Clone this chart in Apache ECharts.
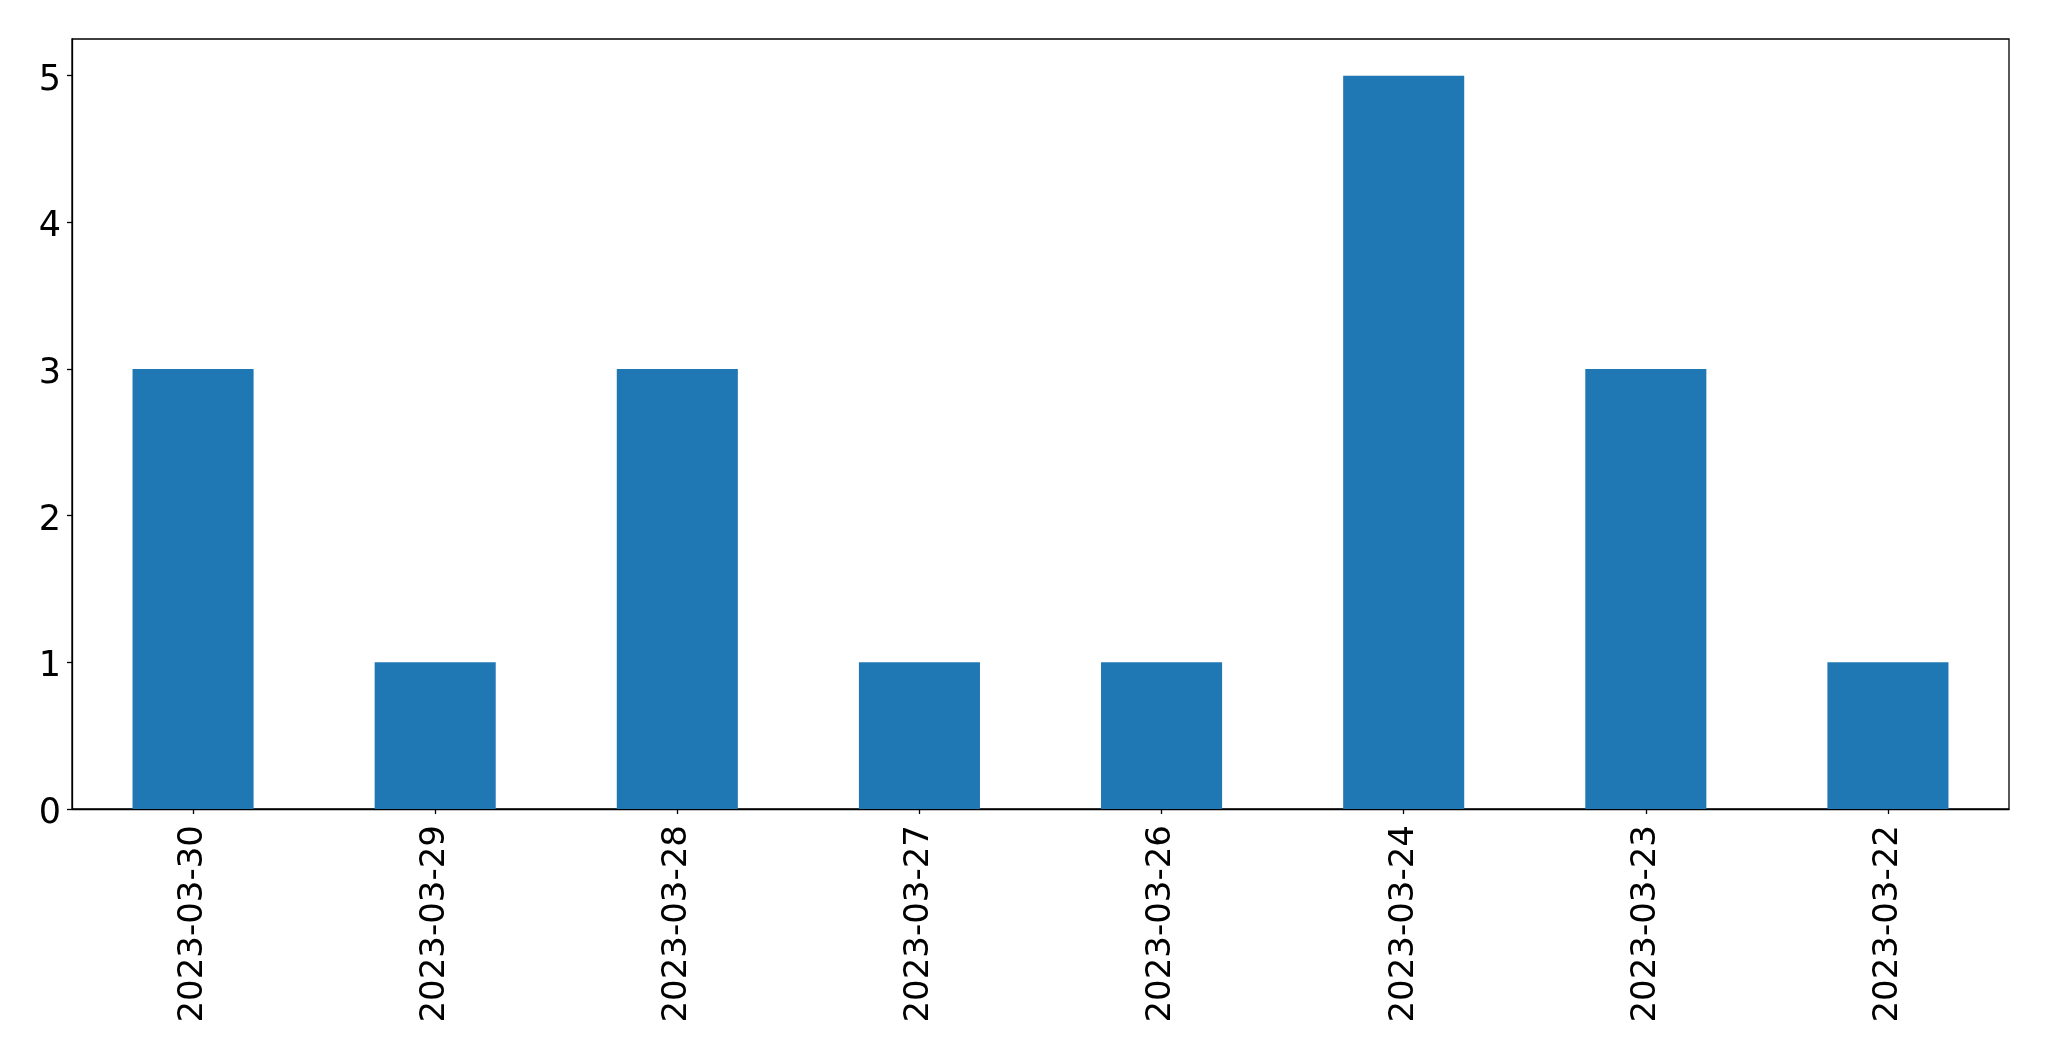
<!DOCTYPE html>
<html>
<head>
<meta charset="utf-8">
<script src="https://cdn.jsdelivr.net/npm/echarts@6/dist/echarts.min.js"></script>
<style>
html,body{margin:0;padding:0;background:#fff;}
#c{width:2049px;height:1061px;}
</style>
</head>
<body>
<div id="c"></div>
<script>
const categories = ["2023-03-30","2023-03-29","2023-03-28","2023-03-27","2023-03-26","2023-03-24","2023-03-23","2023-03-22"];
const counts = [3,1,3,1,1,5,3,1];
const yTicks = [0,1,2,3,4,5];

const chart = echarts.init(document.getElementById('c'), null, {renderer:'canvas'});
const font = 'DejaVu Sans';
chart.setOption({
  animation:false,
  backgroundColor:'#ffffff',
  grid:{left:72, top:39, right:40, bottom:252, show:true, borderColor:'#000', borderWidth:1.3, backgroundColor:'transparent'},
  xAxis:{
    type:'category',
    data:categories,
    axisLine:{show:true, lineStyle:{color:'#000', width:1.3}},
    axisTick:{show:true, alignWithLabel:true, length:5, lineStyle:{color:'#000', width:1.3}},
    axisLabel:{rotate:90, margin:16, fontFamily:font, fontSize:34, color:'#000', interval:0}
  },
  yAxis:{
    type:'value',
    min:0, max:5.25,
    splitLine:{show:false},
    axisLine:{show:true, lineStyle:{color:'#000', width:1.3}},
    axisTick:{show:true, length:5, lineStyle:{color:'#000', width:1.3}, customValues:yTicks},
    axisLabel:{
      margin:11, fontFamily:font, fontSize:35, color:'#000', customValues:yTicks,
      formatter:function(v){return '{v|' + v + '}';},
      rich:{v:{fontFamily:font, fontSize:35, color:'#000', lineHeight:45, verticalAlign:'bottom'}}
    }
  },
  series:[{
    type:'bar',
    data:counts,
    barWidth:'50%',
    itemStyle:{color:'#1f77b4'}
  }]
});
</script>
</body>
</html>
